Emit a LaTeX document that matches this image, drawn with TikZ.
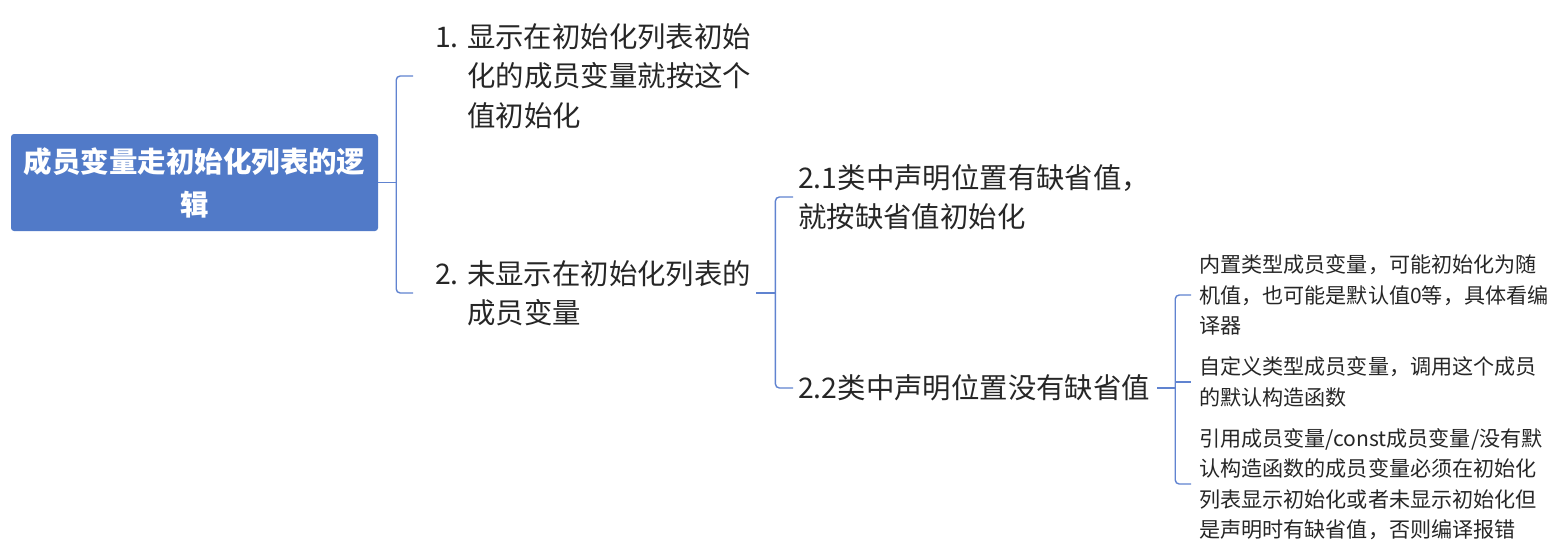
\documentclass[tikz,border=0pt]{standalone}
\usepackage{fontspec}
\setmainfont{Noto Sans CJK SC}
\usetikzlibrary{calc}
\definecolor{rootblue}{RGB}{81,122,200}
\definecolor{linkblue}{RGB}{96,131,208}
\definecolor{txt}{RGB}{38,38,38}
\tikzset{
  rootbox/.style={fill=rootblue, rounded corners=3pt, minimum width=367pt, minimum height=97pt, inner sep=0pt, align=center, text=white, font=\fontsize{28.5}{43}\selectfont\bfseries},
  lvl/.style={anchor=west, inner sep=0pt, align=left, text=txt, font=\fontsize{28.4}{39.5}\selectfont},
  leaf/.style={anchor=west, inner sep=0pt, align=left, text=txt, font=\fontsize{21.1}{30.5}\selectfont},
  conn/.style={draw=linkblue, line width=1.4pt, rounded corners=4pt}
}
\begin{document}
\begin{tikzpicture}[x=1pt,y=-1pt]
\useasboundingbox (0,0) rectangle (1556,557);
\node[rootbox] (root) at (194.5,182.5) {成员变量走初始化列表的逻\\辑};
\node[lvl] (n1) at (435,76) {\makebox[32pt][l]{1.}显示在初始化列表初始\\\hspace*{32pt}化的成员变量就按这个\\\hspace*{32pt}值初始化};
\node[lvl] (n2) at (435,293) {\makebox[32pt][l]{2.}未显示在初始化列表的\\\hspace*{32pt}成员变量};
\node[lvl] (n21) at (798,197) {2.1类中声明位置有缺省值，\\就按缺省值初始化};
\node[lvl] (n22) at (798,388) {2.2类中声明位置没有缺省值};
\node[leaf] (l1) at (1199,295) {内置类型成员变量，可能初始化为随\\机值，也可能是默认值0等，具体看编\\译器};
\node[leaf] (l2) at (1199,382) {自定义类型成员变量，调用这个成员\\的默认构造函数};
\node[leaf] (l3) at (1199,484) {引用成员变量/const成员变量/没有默\\认构造函数的成员变量必须在初始化\\列表显示初始化或者未显示初始化但\\是声明时有缺省值，否则编译报错};
% level 1
\path (root.east) ++(18,0) coordinate (j1);
\draw[conn] (root.east) -- (j1);
\draw[conn] ([xshift=-22pt]n1.west) -| (j1) |- ([xshift=-22pt]n2.west);
% level 2
\path (n2.east) ++(24,0) coordinate (j2);
\draw[conn] ([xshift=5pt]n2.east) -- (j2);
\draw[conn] ([xshift=-5pt]n21.west) -| (j2) |- ([xshift=-5pt]n22.west);
% level 3
\path (n22.east) ++(25,0) coordinate (j3);
\draw[conn] ([xshift=7pt]n22.east) -- (j3);
\draw[conn] ([xshift=-8pt]l1.west) -| (j3) |- ([xshift=-8pt]l3.west);
\draw[conn] (j3 |- l2.west) -- ([xshift=-8pt]l2.west);
\end{tikzpicture}
\end{document}
